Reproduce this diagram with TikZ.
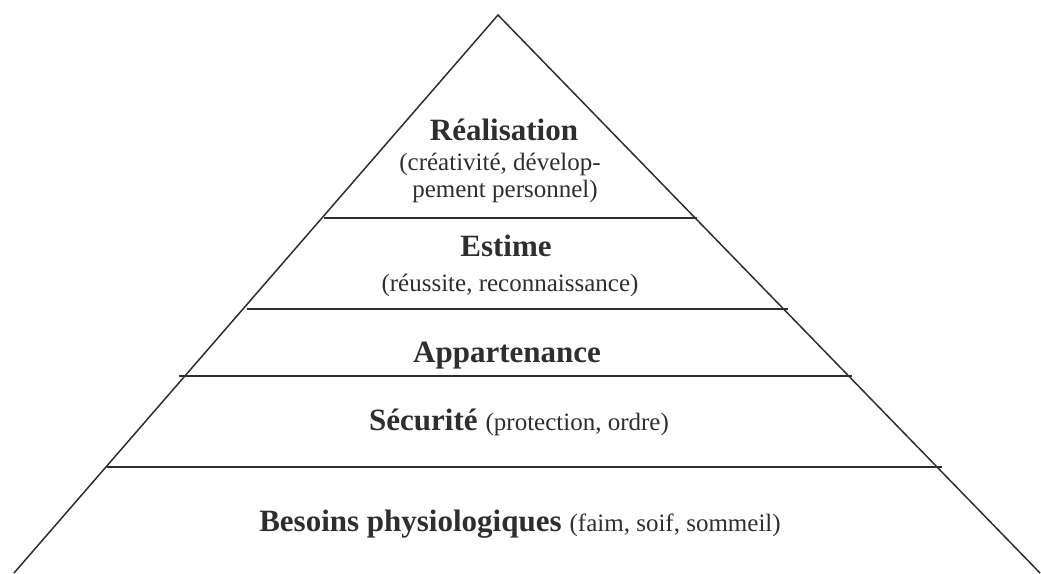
\documentclass[tikz,border=0pt]{standalone}
\usepackage{fontspec}
\setmainfont{Liberation Serif}
\definecolor{ink}{gray}{0.18}
\begin{document}
\begin{tikzpicture}[x=1pt,y=-1pt,
  edge/.style={draw=ink,line width=1.5pt},
  tier/.style={draw=ink,line width=1.6pt},
  head/.style={anchor=base,text=ink,inner sep=0pt,font=\fontsize{31}{34}\selectfont\bfseries},
  note/.style={anchor=base,text=ink,inner sep=0pt,font=\fontsize{25}{27}\selectfont},
  mixed/.style={anchor=base,text=ink,inner sep=0pt,font=\fontsize{25}{27}\selectfont}]
\useasboundingbox (0,0) rectangle (1041,573);
% outline of the pyramid
\coordinate (apex) at (498,15);
\coordinate (bl) at (14,573);
\coordinate (br) at (1040,573);
\draw[edge,line join=miter] (bl) -- (apex) -- (br);
% level separators
\coordinate (a1) at (324,218); \coordinate (b1) at (697,218);
\coordinate (a2) at (247,309); \coordinate (b2) at (788,309);
\coordinate (a3) at (179,376); \coordinate (b3) at (852,376);
\coordinate (a4) at (107,467); \coordinate (b4) at (942,467);
\draw[tier] (a1) -- (b1);
\draw[tier] (a2) -- (b2);
\draw[tier] (a3) -- (b3);
\draw[tier] (a4) -- (b4);
% labels
\node[head] (real) at (504,140) {Réalisation};
\node[note] (real1) at (500,170) {(créativité, dévelop-};
\node[note] (real2) at (505,197) {pement personnel)};
\node[head] (est) at (506,256) {Estime};
\node[note] (est1) at (510,291) {(réussite, reconnaissance)};
\node[head] (app) at (507,362) {Appartenance};
\node[mixed] (sec) at (519,430)
  {{\fontsize{31}{34}\selectfont\bfseries Sécurité}\hspace{8pt}(protection, ordre)};
\node[mixed] (bes) at (520,531)
  {{\fontsize{31}{34}\selectfont\bfseries Besoins physiologiques}\hspace{8pt}(faim, soif, sommeil)};
\end{tikzpicture}
\end{document}
